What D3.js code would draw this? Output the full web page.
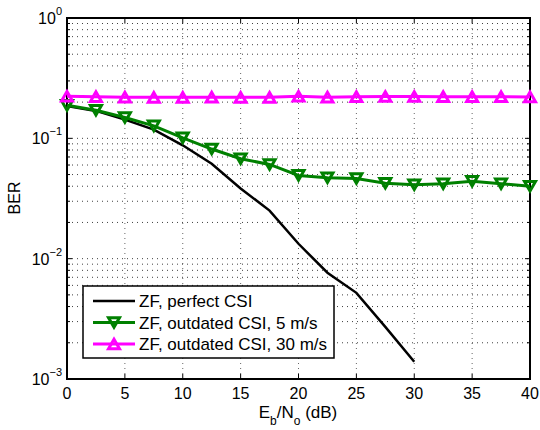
<!DOCTYPE html>
<html>
<head>
<meta charset="utf-8">
<script src="https://cdn.jsdelivr.net/npm/d3@7"></script>
<style>
  body { margin: 0; background: #fff; }
  svg text { font-family: "Liberation Sans", Arial, sans-serif; }
</style>
</head>
<body>
<div id="chart"></div>
<script>
// data
var snr = [0, 2.5, 5, 7.5, 10, 12.5, 15, 17.5, 20, 22.5, 25, 27.5, 30, 32.5, 35, 37.5, 40];
var snrPerfect = [0, 2.5, 5, 7.5, 10, 12.5, 15, 17.5, 20, 22.5, 25, 27.5, 30];
var berPerfect = [0.186, 0.169, 0.143, 0.118, 0.0875, 0.0615, 0.0383, 0.0251, 0.0133, 0.00764, 0.0052, 0.00271, 0.00139];
var ber5 = [0.188, 0.171, 0.149, 0.127, 0.101, 0.0815, 0.0677, 0.0607, 0.0492, 0.047, 0.0464, 0.0424, 0.0411, 0.0419, 0.044, 0.042, 0.040];
var ber30 = [0.224, 0.222, 0.22, 0.219, 0.219, 0.22, 0.219, 0.219, 0.224, 0.22, 0.222, 0.223, 0.223, 0.222, 0.222, 0.222, 0.221];
var xTicks = [0, 5, 10, 15, 20, 25, 30, 35, 40];
var yDecades = [-3, -2, -1, 0];
var legendLabels = ["ZF, perfect CSI", "ZF, outdated CSI, 5 m/s", "ZF, outdated CSI, 30 m/s"];

var width = 540, height = 430;
var margin = { top: 18, right: 10, bottom: 51, left: 67 };
var w = width - margin.left - margin.right;
var h = height - margin.top - margin.bottom;

var svg = d3.select("#chart").append("svg")
	.attr("width", width)
	.attr("height", height);

var x = d3.scaleLinear().domain([0, 40]).range([margin.left, margin.left + w]);
var y = d3.scaleLog().domain([1e-3, 1]).range([margin.top + h, margin.top]);

// grid
var minorY = [];
yDecades.slice(0, 3).forEach(function (e) {
	for (var k = 2; k <= 9; k++) minorY.push(k * Math.pow(10, e));
});
var majorY = yDecades.map(function (e) { return Math.pow(10, e); });

var grid = svg.append("g");
grid.selectAll(".gy").data(majorY.concat(minorY)).enter().append("line")
	.attr("x1", x(0)).attr("x2", x(40))
	.attr("y1", function (d) { return y(d); }).attr("y2", function (d) { return y(d); })
	.attr("stroke", "#000").attr("stroke-width", 1)
	.attr("stroke-dasharray", "1,4").attr("opacity", 0.75);
grid.selectAll(".gx").data(xTicks).enter().append("line")
	.attr("x1", function (d) { return x(d); }).attr("x2", function (d) { return x(d); })
	.attr("y1", y(1)).attr("y2", y(1e-3))
	.attr("stroke", "#000").attr("stroke-width", 1)
	.attr("stroke-dasharray", "1,4").attr("opacity", 0.6);

// ticks (inside, both sides)
var ticks = svg.append("g").attr("stroke", "#000").attr("stroke-width", 1);
xTicks.forEach(function (d) {
	ticks.append("line").attr("x1", x(d)).attr("x2", x(d)).attr("y1", y(1e-3)).attr("y2", y(1e-3) - 5);
	ticks.append("line").attr("x1", x(d)).attr("x2", x(d)).attr("y1", y(1)).attr("y2", y(1) + 5);
});
majorY.forEach(function (d) {
	ticks.append("line").attr("x1", x(0)).attr("x2", x(0) + 5).attr("y1", y(d)).attr("y2", y(d));
	ticks.append("line").attr("x1", x(40)).attr("x2", x(40) - 5).attr("y1", y(d)).attr("y2", y(d));
});
minorY.forEach(function (d) {
	ticks.append("line").attr("x1", x(0)).attr("x2", x(0) + 3).attr("y1", y(d)).attr("y2", y(d));
	ticks.append("line").attr("x1", x(40)).attr("x2", x(40) - 3).attr("y1", y(d)).attr("y2", y(d));
});

// box
svg.append("rect")
	.attr("x", x(0)).attr("y", y(1))
	.attr("width", x(40) - x(0)).attr("height", y(1e-3) - y(1))
	.attr("fill", "none").attr("stroke", "#000").attr("stroke-width", 2);

// tick labels
svg.selectAll(".xl").data(xTicks).enter().append("text")
	.attr("x", function (d) { return x(d); })
	.attr("y", y(1e-3) + 20)
	.attr("text-anchor", "middle")
	.attr("font-size", 16)
	.text(function (d) { return d; });

yDecades.forEach(function (e) {
	var t = svg.append("text")
		.attr("x", x(0) - 5)
		.attr("y", y(Math.pow(10, e)) + 6)
		.attr("text-anchor", "end")
		.attr("font-size", 16);
	t.append("tspan").text("10");
	t.append("tspan").attr("dy", -9).attr("font-size", 11).text(e === 0 ? "0" : "\u2212" + (-e));
});

// axis labels
var xl = svg.append("text")
	.attr("x", 298).attr("y", 418)
	.attr("text-anchor", "middle")
	.attr("font-size", 17);
xl.append("tspan").text("E");
xl.append("tspan").attr("dy", 7).attr("font-size", 12).text("b");
xl.append("tspan").attr("dy", -7).text("/N");
xl.append("tspan").attr("dy", 7).attr("font-size", 12).text("o");
xl.append("tspan").attr("dy", -7).text(" (dB)");

svg.append("text")
	.attr("transform", "translate(20,198) rotate(-90)")
	.attr("text-anchor", "middle")
	.attr("font-size", 16)
	.text("BER");

// curves
var line = d3.line().x(function (d) { return x(d[0]); }).y(function (d) { return y(d[1]); });

function triangle(down, s) {
	var hh = s * 0.87;
	if (down) return "M" + (-s / 2) + "," + (-hh / 2) + "L" + (s / 2) + "," + (-hh / 2) + "L0," + (hh / 2) + "Z";
	return "M" + (-s / 2) + "," + (hh / 2) + "L" + (s / 2) + "," + (hh / 2) + "L0," + (-hh / 2) + "Z";
}

var plot = svg.append("g");

plot.append("path")
	.datum(d3.zip(snrPerfect, berPerfect))
	.attr("d", line)
	.attr("fill", "none").attr("stroke", "#000").attr("stroke-width", 2.5);

plot.append("path")
	.datum(d3.zip(snr, ber5))
	.attr("d", line)
	.attr("fill", "none").attr("stroke", "#008000").attr("stroke-width", 3);
plot.selectAll(".m5").data(d3.zip(snr, ber5)).enter().append("path")
	.attr("transform", function (d) { return "translate(" + x(d[0]) + "," + y(d[1]) + ")"; })
	.attr("d", triangle(true, 11))
	.attr("fill", "none").attr("stroke", "#008000").attr("stroke-width", 3);

plot.append("path")
	.datum(d3.zip(snr, ber30))
	.attr("d", line)
	.attr("fill", "none").attr("stroke", "#ff00ff").attr("stroke-width", 3);
plot.selectAll(".m30").data(d3.zip(snr, ber30)).enter().append("path")
	.attr("transform", function (d) { return "translate(" + x(d[0]) + "," + y(d[1]) + ")"; })
	.attr("d", triangle(false, 11))
	.attr("fill", "none").attr("stroke", "#ff00ff").attr("stroke-width", 3);

// legend
var lg = svg.append("g");
lg.append("rect")
	.attr("x", 83).attr("y", 286).attr("width", 251).attr("height", 72)
	.attr("fill", "#fff").attr("stroke", "#000").attr("stroke-width", 1.5);
var colors = ["#000", "#008000", "#ff00ff"];
legendLabels.forEach(function (lab, i) {
	var yy = 301 + i * 21.5;
	lg.append("line").attr("x1", 93).attr("x2", 135).attr("y1", yy).attr("y2", yy)
		.attr("stroke", colors[i]).attr("stroke-width", i === 0 ? 2.5 : 3);
	if (i > 0) {
		lg.append("path").attr("transform", "translate(114," + yy + ")")
			.attr("d", triangle(i === 1, 11))
			.attr("fill", "none").attr("stroke", colors[i]).attr("stroke-width", 3);
	}
	lg.append("text").attr("x", 139).attr("y", yy + 6)
		.attr("font-size", 17).text(lab);
});
</script>
</body>
</html>
